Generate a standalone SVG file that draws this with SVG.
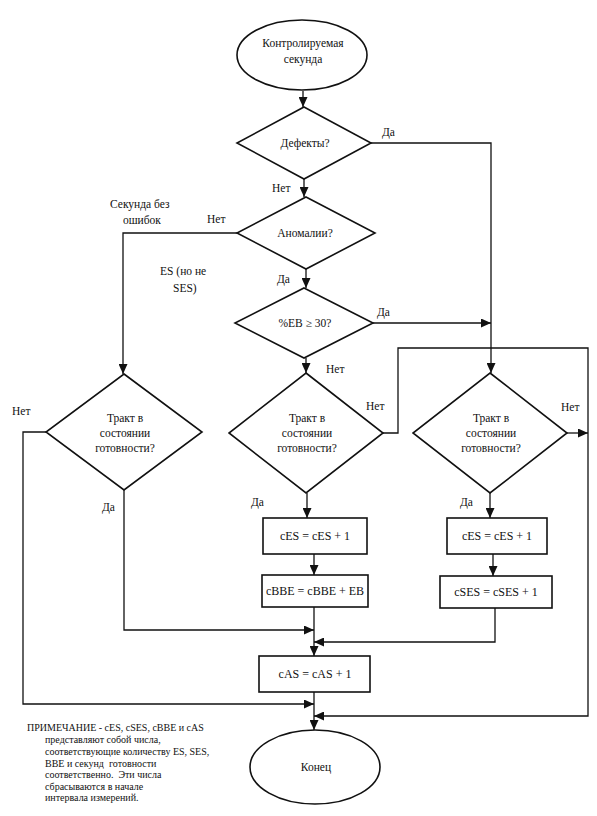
<svg xmlns="http://www.w3.org/2000/svg" width="597" height="816" viewBox="0 0 597 816" font-family="Liberation Serif, DejaVu Serif, serif">
<style>
.s{fill:#fff;stroke:#111;stroke-width:1.6}
.c{fill:none;stroke:#111;stroke-width:1.3}
text{fill:#111;font-size:11.5px}
.m{text-anchor:middle}
.b{font-size:12px}
.n text{font-size:10px}
</style>
<defs>
<marker id="a" markerUnits="userSpaceOnUse" markerWidth="10" markerHeight="9" refX="10" refY="4.5" orient="auto">
<path d="M0,0 L10,4.5 L0,9 z" fill="#111"/>
</marker>
</defs>
<rect width="597" height="816" fill="#fff"/>
<g id="connectors" class="c" marker-end="url(#a)">
<path d="M303,91 V107"/>
<path d="M304,179 V197"/>
<path d="M371,143 H491 V373"/>
<path d="M237,233 H123 V374"/>
<path d="M306,269 V288"/>
<path d="M373,323 H491"/>
<path d="M306,358 V373"/>
<path d="M383,433 H398 V348 H588 V716 H314"/>
<path d="M567,433 H588"/>
<path d="M46,432 H23 V704 H314"/>
<path d="M124,490 V630 H314"/>
<path d="M307,493 V518"/>
<path d="M314,554 V575"/>
<path d="M314,607 V656"/>
<path d="M490,493 V518"/>
<path d="M493,554 V576"/>
<path d="M495,608 V642 H314"/>
<path d="M314,692 V730"/>
</g>
<g id="start">
<ellipse class="s" cx="302" cy="55" rx="65" ry="35"/>
<text class="m" x="303" y="47">Контролируемая</text>
<text class="m" x="303" y="63">секунда</text>
</g>
<g id="defects">
<polygon class="s" points="304,107 371,143 304,179 237,143"/>
<text class="m" x="305" y="147">Дефекты?</text>
</g>
<g id="anomalies">
<polygon class="s" points="306,197 375,233 306,269 237,233"/>
<text class="m" x="305" y="237">Аномалии?</text>
</g>
<g id="eb30">
<polygon class="s" points="304,288 373,323 304,358 235,323"/>
<text class="m" x="305" y="327">%EB ≥ 30?</text>
</g>
<g id="ready-left">
<polygon class="s" points="124,374 202,432 124,490 46,432"/>
<text class="m" x="125" y="422">Тракт в</text>
<text class="m" x="125" y="437">состоянии</text>
<text class="m" x="125" y="452">готовности?</text>
</g>
<g id="ready-mid">
<polygon class="s" points="306,373 383,433 306,493 229,433"/>
<text class="m" x="307" y="422">Тракт в</text>
<text class="m" x="307" y="437">состоянии</text>
<text class="m" x="307" y="452">готовности?</text>
</g>
<g id="ready-right">
<polygon class="s" points="490,373 567,433 490,493 413,433"/>
<text class="m" x="491" y="422">Тракт в</text>
<text class="m" x="491" y="437">состоянии</text>
<text class="m" x="491" y="452">готовности?</text>
</g>
<g id="ces1">
<rect class="s" x="263" y="518" width="104" height="36"/>
<text class="m b" x="315" y="540">cES = cES + 1</text>
</g>
<g id="cbbe">
<rect class="s" x="262" y="575" width="106" height="32"/>
<text class="m b" x="315" y="595">cBBE = cBBE + EB</text>
</g>
<g id="ces2">
<rect class="s" x="447" y="518" width="100" height="36"/>
<text class="m b" x="497" y="540">cES = cES + 1</text>
</g>
<g id="cses">
<rect class="s" x="440" y="576" width="112" height="32"/>
<text class="m b" x="496" y="596">cSES = cSES + 1</text>
</g>
<g id="cas">
<rect class="s" x="259" y="656" width="111" height="36"/>
<text class="m b" x="315" y="678">cAS = cAS + 1</text>
</g>
<g id="end">
<ellipse class="s" cx="315" cy="767" rx="65" ry="37"/>
<text class="m" x="316" y="771">Конец</text>
</g>
<g id="labels">
<text x="382" y="136">Да</text>
<text x="272" y="192">Нет</text>
<text x="207" y="223">Нет</text>
<text x="110" y="208">Секунда без</text>
<text x="123" y="224">ошибок</text>
<text x="160" y="275">ES (но не</text>
<text x="173" y="292">SES)</text>
<text x="277" y="283">Да</text>
<text x="377" y="316">Да</text>
<text x="326" y="373">Нет</text>
<text x="366" y="410">Нет</text>
<text x="561" y="411">Нет</text>
<text x="12" y="415">Нет</text>
<text x="102" y="511">Да</text>
<text x="251" y="506">Да</text>
<text x="460" y="506">Да</text>
</g>
<g id="note" class="n">
<text x="27" y="731">ПРИМЕЧАНИЕ - cES, cSES, cBBE и cAS</text>
<text x="45" y="743">представляют собой числа,</text>
<text x="45" y="755">соответствующие количеству ES, SES,</text>
<text x="45" y="767" xml:space="preserve">BBE и секунд  готовности</text>
<text x="45" y="778" xml:space="preserve">соответственно.  Эти числа</text>
<text x="45" y="790">сбрасываются в начале</text>
<text x="45" y="801">интервала измерений.</text>
</g>
</svg>
